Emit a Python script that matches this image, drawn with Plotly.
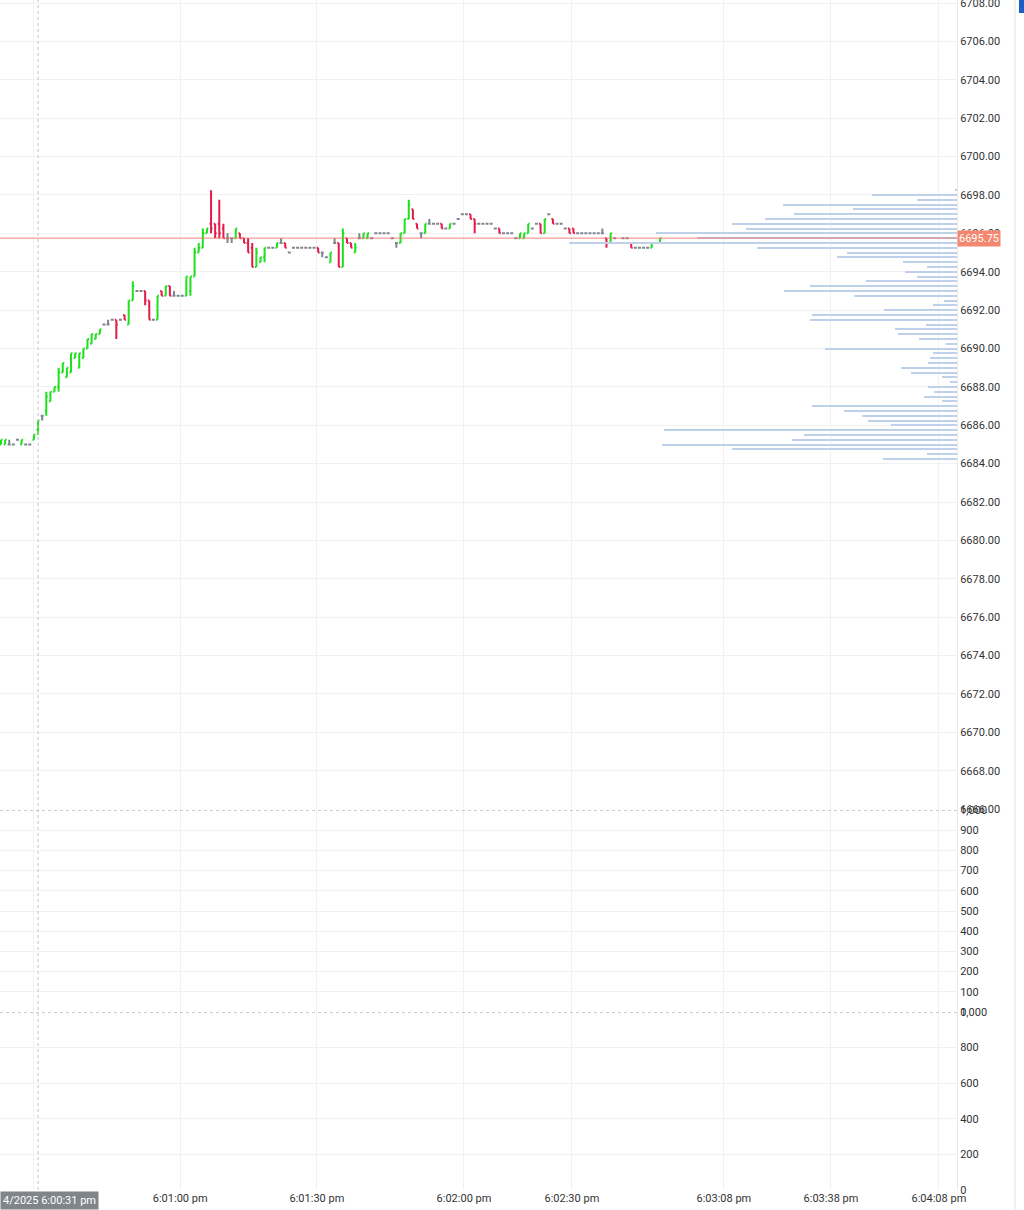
import plotly.graph_objects as go

# ---------------- DATA ----------------
OPEN = [
    6685.00, 6685.00, 6685.00, 6685.00, 6685.25, 6685.00, 6685.00, 6685.00, 6685.25, 6685.75,
    6686.50, 6686.75, 6687.25, 6687.75, 6688.00, 6688.75, 6688.50, 6688.75, 6689.50, 6689.00,
    6689.50, 6690.00, 6690.25, 6690.50, 6690.75, 6691.25, 6691.25, 6691.50, 6691.50, 6691.50,
    6691.75, 6691.25, 6692.50, 6693.00, 6693.00, 6693.00, 6692.50, 6691.50, 6691.50, 6693.00,
    6692.75, 6693.25, 6692.75, 6692.75, 6692.75, 6692.75, 6693.00, 6693.75, 6695.00, 6695.25,
    6696.00, 6696.50, 6696.50, 6696.50, 6696.25, 6695.75, 6695.75, 6695.75, 6696.00, 6695.75,
    6695.50, 6695.25, 6694.25, 6694.50, 6694.75, 6695.25, 6695.25, 6695.25, 6695.50, 6695.50,
    6695.00, 6695.25, 6695.25, 6695.25, 6695.25, 6695.25, 6695.25, 6695.25, 6695.00, 6694.75,
    6694.50, 6695.50, 6695.50, 6694.25, 6695.75, 6695.50, 6695.00, 6695.75, 6695.75, 6695.75,
    6695.75, 6696.00, 6696.00, 6696.00, 6696.00, 6695.75, 6695.50, 6695.50, 6696.00, 6696.75,
    6697.25, 6696.50, 6696.00, 6696.00, 6696.50, 6696.50, 6696.50, 6696.50, 6696.25, 6696.25,
    6696.50, 6696.75, 6697.00, 6697.00, 6697.00, 6696.75, 6696.50, 6696.50, 6696.50, 6696.50,
    6696.25, 6696.25, 6696.00, 6696.00, 6696.00, 6695.75, 6695.75, 6695.75, 6696.00, 6696.25,
    6696.50, 6696.50, 6696.00, 6697.00, 6696.75, 6696.50, 6696.50, 6696.25, 6696.25, 6696.25,
    6696.00, 6696.00, 6696.00, 6696.00, 6696.00, 6696.00, 6696.00, 6695.75, 6695.50, 6695.75,
    6695.50, 6695.75, 6695.75, 6695.50, 6695.25, 6695.25, 6695.25, 6695.25, 6695.25, 6695.50,
    6695.50,
]
HIGH = [
    6685.25, 6685.25, 6685.25, 6685.00, 6685.25, 6685.25, 6685.00, 6685.00, 6685.50, 6686.25,
    6686.50, 6687.75, 6687.75, 6688.00, 6689.00, 6689.25, 6689.00, 6689.75, 6689.75, 6689.75,
    6690.00, 6690.50, 6690.75, 6690.75, 6691.00, 6691.25, 6691.50, 6691.50, 6691.50, 6691.50,
    6691.75, 6692.50, 6693.50, 6693.00, 6693.00, 6693.00, 6692.50, 6691.50, 6692.75, 6693.00,
    6693.25, 6693.25, 6693.00, 6692.75, 6692.75, 6693.75, 6693.75, 6695.25, 6695.50, 6696.25,
    6696.25, 6698.25, 6696.50, 6697.75, 6696.50, 6696.00, 6695.75, 6696.25, 6696.00, 6695.75,
    6695.75, 6695.50, 6695.25, 6694.75, 6695.25, 6695.25, 6695.25, 6695.50, 6695.75, 6695.50,
    6695.00, 6695.25, 6695.25, 6695.25, 6695.25, 6695.25, 6695.25, 6695.25, 6695.00, 6694.75,
    6695.00, 6695.75, 6695.50, 6696.25, 6695.75, 6695.50, 6695.50, 6696.00, 6696.00, 6696.00,
    6695.75, 6696.00, 6696.00, 6696.00, 6696.00, 6695.75, 6695.50, 6696.00, 6696.75, 6697.75,
    6697.25, 6696.50, 6696.00, 6696.50, 6696.75, 6696.50, 6696.50, 6696.50, 6696.25, 6696.50,
    6696.50, 6696.75, 6697.00, 6697.00, 6697.00, 6696.75, 6696.50, 6696.50, 6696.50, 6696.50,
    6696.25, 6696.25, 6696.00, 6696.00, 6696.00, 6695.75, 6696.00, 6696.00, 6696.50, 6696.25,
    6696.50, 6696.50, 6696.75, 6697.00, 6696.75, 6696.50, 6696.50, 6696.25, 6696.25, 6696.25,
    6696.00, 6696.00, 6696.00, 6696.00, 6696.00, 6696.00, 6696.25, 6695.75, 6696.00, 6695.75,
    6695.50, 6695.75, 6695.75, 6695.50, 6695.25, 6695.25, 6695.25, 6695.25, 6695.50, 6695.50,
    6695.75,
]
LOW = [
    6685.00, 6685.00, 6685.00, 6685.00, 6685.25, 6685.00, 6685.00, 6685.00, 6685.25, 6685.50,
    6686.25, 6686.50, 6687.25, 6687.75, 6687.75, 6688.75, 6688.50, 6688.75, 6689.50, 6689.00,
    6689.50, 6690.00, 6690.25, 6690.50, 6690.75, 6691.25, 6691.25, 6691.50, 6690.50, 6691.50,
    6691.50, 6691.25, 6692.50, 6693.00, 6693.00, 6692.25, 6691.50, 6691.50, 6691.50, 6692.75,
    6692.75, 6692.75, 6692.75, 6692.75, 6692.75, 6692.75, 6692.75, 6693.75, 6695.00, 6695.25,
    6696.00, 6696.00, 6695.75, 6695.75, 6695.75, 6695.50, 6695.50, 6695.75, 6695.75, 6695.50,
    6695.00, 6694.25, 6694.25, 6694.50, 6694.50, 6695.25, 6695.25, 6695.25, 6695.50, 6695.25,
    6695.00, 6695.25, 6695.25, 6695.25, 6695.25, 6695.25, 6695.25, 6695.00, 6694.75, 6694.75,
    6694.50, 6695.50, 6694.25, 6694.25, 6695.50, 6695.25, 6695.00, 6695.75, 6695.75, 6695.75,
    6695.75, 6696.00, 6696.00, 6696.00, 6696.00, 6695.75, 6695.25, 6695.50, 6696.00, 6696.75,
    6696.75, 6696.25, 6695.75, 6696.00, 6696.50, 6696.50, 6696.50, 6696.25, 6696.25, 6696.25,
    6696.50, 6696.75, 6697.00, 6697.00, 6696.75, 6696.00, 6696.50, 6696.50, 6696.50, 6696.50,
    6696.25, 6696.00, 6696.00, 6696.00, 6696.00, 6695.75, 6695.75, 6695.75, 6696.00, 6696.25,
    6696.50, 6696.00, 6696.00, 6697.00, 6696.50, 6696.50, 6696.50, 6696.25, 6696.00, 6696.00,
    6696.00, 6696.00, 6696.00, 6696.00, 6696.00, 6696.00, 6696.00, 6695.25, 6695.50, 6695.75,
    6695.50, 6695.75, 6695.75, 6695.25, 6695.25, 6695.25, 6695.25, 6695.25, 6695.25, 6695.50,
    6695.50,
]
CLOSE = [
    6685.25, 6685.25, 6685.00, 6685.00, 6685.25, 6685.25, 6685.00, 6685.00, 6685.50, 6686.25,
    6686.50, 6687.50, 6687.75, 6688.00, 6688.75, 6689.25, 6689.00, 6689.75, 6689.75, 6689.75,
    6690.00, 6690.50, 6690.75, 6690.75, 6691.00, 6691.25, 6691.25, 6691.50, 6691.25, 6691.50,
    6691.50, 6692.50, 6693.25, 6693.00, 6693.00, 6692.50, 6691.50, 6691.50, 6692.75, 6692.75,
    6693.25, 6692.75, 6692.75, 6692.75, 6692.75, 6693.75, 6693.75, 6695.00, 6695.25, 6696.00,
    6696.25, 6696.25, 6696.00, 6696.00, 6695.75, 6695.75, 6695.75, 6696.25, 6695.75, 6695.50,
    6695.00, 6694.25, 6695.00, 6694.75, 6695.25, 6695.25, 6695.25, 6695.50, 6695.50, 6695.25,
    6695.00, 6695.25, 6695.25, 6695.25, 6695.25, 6695.25, 6695.25, 6695.00, 6695.00, 6694.75,
    6695.00, 6695.50, 6694.25, 6696.00, 6695.50, 6695.25, 6695.25, 6695.75, 6696.00, 6696.00,
    6695.75, 6696.00, 6696.00, 6696.00, 6696.00, 6695.75, 6695.50, 6696.00, 6696.75, 6697.50,
    6696.75, 6696.25, 6696.00, 6696.50, 6696.50, 6696.50, 6696.50, 6696.25, 6696.25, 6696.50,
    6696.50, 6696.75, 6697.00, 6697.00, 6696.75, 6696.50, 6696.50, 6696.50, 6696.50, 6696.50,
    6696.25, 6696.00, 6696.00, 6696.00, 6696.00, 6695.75, 6696.00, 6696.00, 6696.50, 6696.25,
    6696.50, 6696.00, 6696.75, 6697.00, 6696.50, 6696.50, 6696.50, 6696.25, 6696.00, 6696.00,
    6696.00, 6696.00, 6696.00, 6696.00, 6696.00, 6696.00, 6696.00, 6695.50, 6696.00, 6695.75,
    6695.50, 6695.75, 6695.75, 6695.25, 6695.25, 6695.25, 6695.25, 6695.25, 6695.50, 6695.50,
    6695.75,
]
BAR_INDEX = list(range(len(OPEN)))

# Volume-at-price profile (right side)
PROFILE_PRICES = [
    6698.25, 6698.00, 6697.75, 6697.50, 6697.25, 6697.00, 6696.75, 6696.50, 6696.25, 6696.00,
    6695.75, 6695.50, 6695.25, 6695.00, 6694.75, 6694.50, 6694.25, 6694.00, 6693.75, 6693.50,
    6693.25, 6693.00, 6692.75, 6692.50, 6692.25, 6692.00, 6691.75, 6691.50, 6691.25, 6691.00,
    6690.75, 6690.50, 6690.25, 6690.00, 6689.75, 6689.50, 6689.25, 6689.00, 6688.75, 6688.50,
    6688.25, 6688.00, 6687.75, 6687.50, 6687.25, 6687.00, 6686.75, 6686.50, 6686.25, 6686.00,
    6685.75, 6685.50, 6685.25, 6685.00, 6684.75, 6684.50, 6684.25,
]
PROFILE_VOLUME = [
    6, 255, 120, 522, 312, 489, 576, 675, 633, 903,
    780, 1164, 600, 330, 360, 162, 90, 156, 120, 273,
    441, 519, 309, 39, 72, 219, 435, 441, 93, 186,
    177, 114, 33, 396, 72, 81, 87, 168, 138, 45,
    21, 87, 69, 99, 45, 435, 339, 285, 267, 198,
    879, 459, 495, 885, 675, 90, 222,
]
PROFILE_MAX = 2871

# time axis: the 6:00:30 label is hidden under the crosshair label in the reference
TIME_LABELS = ["", "6:01:00 pm", "6:01:30 pm", "6:02:00 pm",
               "6:02:30 pm", "6:03:08 pm", "6:03:38 pm", "6:04:08 pm"]
TIME_TICK_INDEX = [7.8, 43.5, 76.7, 112.4, 138.6, 175.5, 201.5, 227.7]
X_RANGE = [-0.24, 232.1]
CROSSHAIR_INDEX = 9.0
CROSSHAIR_LABEL = "4/2025 6:00:31 pm"
LAST_PRICE = 6695.75

PRICE_TICKS = [6666, 6668, 6670, 6672, 6674, 6676, 6678, 6680, 6682, 6684, 6686,
               6688, 6690, 6692, 6694, 6696, 6698, 6700, 6702, 6704, 6706, 6708]
PRICE_RANGE = [6665.95, 6708.16]
PANE2_TICKS = [0, 100, 200, 300, 400, 500, 600, 700, 800, 900, 1000]
PANE3_TICKS = [0, 200, 400, 600, 800, 1000]

GREEN = "#1fe01f"
RED = "#e31b4b"
GREY = "#7d8590"
GRID = "#f1f1f1"
TXT = "#333333"
FONT = "Roboto, Arial, sans-serif"

# ---------------- FIGURE ----------------
fig = go.Figure()

fig.add_trace(go.Bar(
    y=PROFILE_PRICES, x=PROFILE_VOLUME, orientation="h",
    xaxis="x4", yaxis="y", width=0.06,
    marker=dict(color="#bfd1ea", line=dict(width=0)),
    hoverinfo="skip", showlegend=False,
))

groups = {"g": [], "r": [], "n": []}
for i in BAR_INDEX:
    if CLOSE[i] > OPEN[i]:
        groups["g"].append(i)
    elif CLOSE[i] < OPEN[i]:
        groups["r"].append(i)
    else:
        groups["n"].append(i)

for key, col in (("n", GREY), ("g", GREEN), ("r", RED)):
    ids = groups[key]
    fig.add_trace(go.Ohlc(
        x=[BAR_INDEX[i] for i in ids],
        open=[OPEN[i] for i in ids], high=[HIGH[i] for i in ids],
        low=[LOW[i] for i in ids], close=[CLOSE[i] for i in ids],
        increasing=dict(line=dict(color=col, width=2)),
        decreasing=dict(line=dict(color=col, width=2)),
        tickwidth=0.36, hoverinfo="skip", showlegend=False,
        xaxis="x", yaxis="y",
    ))

tickfont = dict(family=FONT, size=11, color=TXT)
D_PRICE = [1 - 810 / 1190, 1]
D_P2 = [1 - 1012 / 1190, 1 - 810 / 1190]
D_P3 = [0, 1 - 1012 / 1190]

xcommon = dict(range=X_RANGE, tickmode="array", tickvals=TIME_TICK_INDEX,
               showgrid=True, gridcolor=GRID, gridwidth=1, zeroline=False,
               showline=False, ticks="", fixedrange=True, automargin=False,
               ticklabeloverflow="allow")
ycommon = dict(side="right", showgrid=True, gridcolor=GRID, gridwidth=1,
               zeroline=False, showline=True, linecolor="#e9e9e9", linewidth=1,
               ticks="", tickfont=tickfont, tickmode="array", fixedrange=True,
               automargin=False, ticklabeloverflow="allow")

fig.update_layout(
    width=1024, height=1210,
    margin=dict(l=0, r=67, t=0, b=20, autoexpand=False),
    paper_bgcolor="white", plot_bgcolor="white",
    font=dict(family=FONT, size=11, color=TXT),
    showlegend=False, bargap=0,
    xaxis=dict(domain=[0, 1], anchor="y", showticklabels=False,
               rangeslider=dict(visible=False), **xcommon),
    xaxis2=dict(domain=[0, 1], anchor="y2", showticklabels=False, **xcommon),
    xaxis3=dict(domain=[0, 1], anchor="y3", showticklabels=True,
                ticktext=TIME_LABELS, tickfont=tickfont, **xcommon),
    xaxis4=dict(overlaying="x", anchor="y", range=[PROFILE_MAX, 0], visible=False,
                fixedrange=True),
    yaxis=dict(domain=D_PRICE, anchor="x", range=PRICE_RANGE, tickvals=PRICE_TICKS,
               ticktext=[f"{v:.2f}" for v in PRICE_TICKS], **ycommon),
    yaxis2=dict(domain=D_P2, anchor="x2", range=[0, 1000], tickvals=PANE2_TICKS,
                ticktext=[f"{v:,}" for v in PANE2_TICKS], **ycommon),
    yaxis3=dict(domain=D_P3, anchor="x3", range=[0, 1000], tickvals=PANE3_TICKS,
                ticktext=[f"{v:,}" for v in PANE3_TICKS], **ycommon),
)

shapes = [
    # last-price line
    dict(type="line", xref="paper", x0=0, x1=1, yref="y", y0=LAST_PRICE, y1=LAST_PRICE,
         line=dict(color="rgba(238,110,100,0.85)", width=1), layer="above"),
    # pane separators
    dict(type="line", xref="paper", x0=0, x1=1, yref="y2", y0=1000, y1=1000,
         line=dict(color="#9a9a9a", width=1, dash="dot"), layer="above"),
    dict(type="line", xref="paper", x0=0, x1=1, yref="y3", y0=1000, y1=1000,
         line=dict(color="#9a9a9a", width=1, dash="dot"), layer="above"),
    # crosshair
    dict(type="line", xref="x", x0=CROSSHAIR_INDEX, x1=CROSSHAIR_INDEX, yref="paper",
         y0=0, y1=1, line=dict(color="#c4c4c4", width=1, dash="dot"), layer="above"),
    # scrollbar edge on the far right
    dict(type="line", xref="paper", x0=1015 / 957, x1=1015 / 957, yref="paper",
         y0=-20 / 1190, y1=1, line=dict(color="#e2e2e2", width=1)),
    dict(type="rect", xref="paper", x0=1019 / 957, x1=1024 / 957, yref="paper",
         y0=1 - 13 / 1190, y1=1, fillcolor="#1a5fc8", line=dict(width=0)),
]
fig.update_layout(shapes=shapes)

fig.add_annotation(
    xref="paper", x=1, xanchor="left", yref="y", y=LAST_PRICE, yanchor="middle",
    text=f"{LAST_PRICE:.2f}", showarrow=False, bgcolor="#f4876f",
    font=dict(family=FONT, size=11, color="white"), borderpad=1,
)
fig.add_annotation(
    xref="paper", x=0, xanchor="left", yref="paper", y=0, yanchor="top", yshift=-1,
    text=CROSSHAIR_LABEL, showarrow=False, bgcolor="#80858c",
    font=dict(family=FONT, size=11, color="white"), borderpad=2,
)

POST = ("document.documentElement.style.margin='0';"
        "document.body.style.margin='0';document.body.style.padding='0';"
        "document.body.style.overflow='hidden';"
        "var d=document.getElementById('{plot_id}');"
        "d.style.position='absolute';d.style.left='0px';d.style.top='0px';")

fig.write_html("out.html", config={"displayModeBar": False}, post_script=POST)
